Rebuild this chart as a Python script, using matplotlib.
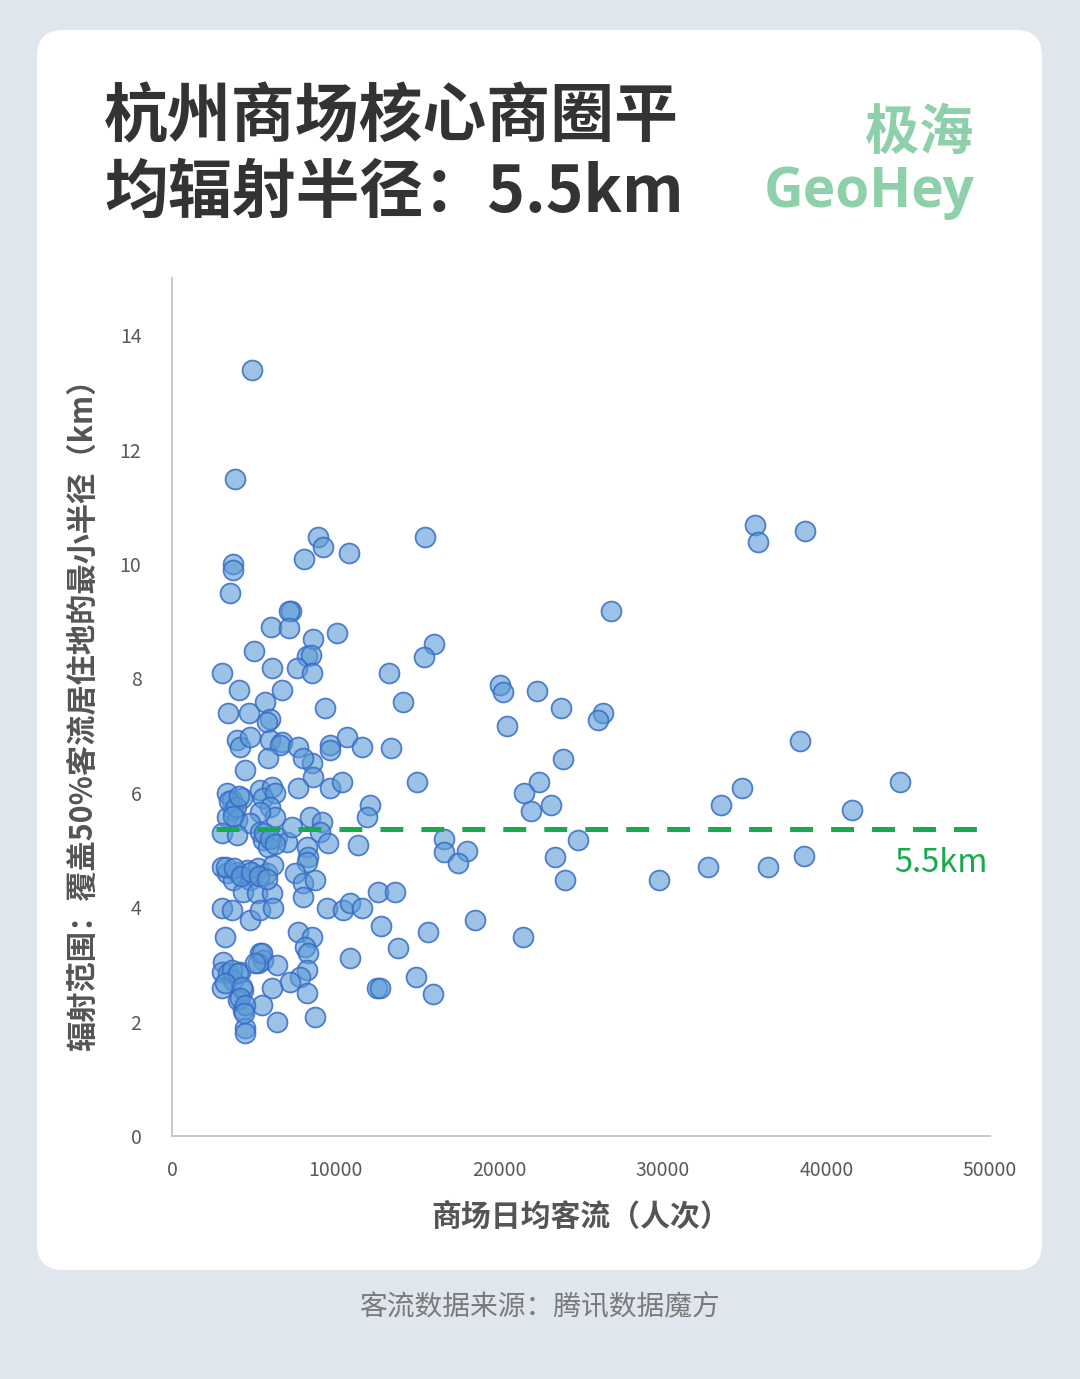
import matplotlib
matplotlib.use("Agg")
import matplotlib.pyplot as plt
from matplotlib.patches import FancyBboxPatch

plt.rcParams['font.family'] = ['Noto Sans CJK SC', 'DejaVu Sans']
plt.rcParams['lines.scale_dashes'] = False

# ---------------- data ----------------
# daily passenger flow of each mall (people/day)
traffic = [
    4890, 3850, 3730, 3730, 3550, 8920, 9230, 8070, 10820, 7270, 7150, 6050, 7150, 8620, 10090,
    5010, 8250, 8500, 6110, 7640, 8560, 3060, 4100, 6720, 5680, 3420, 4710, 5990, 5810, 9350,
    3970, 4160, 4770, 5990, 6720, 6600, 7700, 8560, 8010, 9660, 9660, 10700, 11610, 5870, 4460,
    8620, 7700, 9660, 10390, 12100, 11920, 3360, 3670, 4280, 3730, 3360, 3970, 5380, 6110, 5560,
    6300, 5990, 6300, 5380, 4770, 3060, 3970, 5380, 5560, 6420, 7030, 5870, 7330, 8430, 9170,
    9050, 9540, 8250, 8310, 8250, 11370, 3060, 3360, 3970, 3730, 4580, 4770, 5260, 5810, 6170,
    4340, 5200, 6110, 7520, 8010, 8740, 8010, 3060, 3670, 4770, 5380, 6170, 9470, 10450, 10880,
    11610, 3240, 7700, 8560, 8130, 8310, 3120, 3060, 3420, 4160, 3730, 3060, 4340, 5380, 5560,
    6420, 5260, 8250, 7820, 7210, 6110, 8250, 4030, 4340, 5500, 8740, 6420, 4460, 4460, 10880,
    12530, 12710,
    3670, 4030, 3240, 4280, 4160, 4460, 4400, 5500, 5070,
    3500, 3900, 4100, 3700, 5600, 6000, 6300, 3300, 3800, 4200, 4800, 5300, 5800,
    15460, 26830, 16010, 15400, 13260, 14120, 20050, 20230, 22310, 23780, 26340, 26040, 20480,
    13390, 23900, 14970, 22430, 21510, 23160, 21940, 16620, 16620, 18030, 17480, 24810, 23410,
    24020, 29770, 12590, 13630, 12770, 15650, 13810, 18520, 21450, 14910, 15950,
    32760, 33560, 34840, 35630, 35820, 38690, 38380, 36430, 38630, 41560, 44500,
]
# minimum radius covering 50% of customers' homes (km)
radius = [
    13.39, 11.49, 10.00, 9.90, 9.49, 10.47, 10.30, 10.09, 10.19, 9.18, 9.18, 8.90, 8.88, 8.69, 8.79,
    8.48, 8.39, 8.41, 8.18, 8.18, 8.09, 8.09, 7.80, 7.80, 7.59, 7.40, 7.40, 7.29, 7.24, 7.48,
    6.92, 6.80, 6.98, 6.92, 6.89, 6.84, 6.80, 6.52, 6.61, 6.84, 6.75, 6.98, 6.80, 6.61, 6.40,
    6.28, 6.08, 6.08, 6.19, 5.79, 5.58, 6.00, 5.87, 5.91, 5.70, 5.58, 5.52, 6.05, 6.10, 5.91,
    6.00, 5.75, 5.58, 5.66, 5.47, 5.30, 5.26, 5.31, 5.17, 5.23, 5.14, 5.05, 5.40, 5.58, 5.49,
    5.31, 5.12, 5.05, 4.88, 4.79, 5.09, 4.70, 4.60, 4.62, 4.48, 4.65, 4.48, 4.69, 4.60, 4.74,
    4.27, 4.25, 4.25, 4.60, 4.42, 4.48, 4.18, 3.99, 3.95, 3.78, 3.95, 3.99, 3.99, 3.95, 4.07,
    3.99, 3.48, 3.57, 3.48, 3.30, 3.20, 3.04, 2.87, 2.85, 2.87, 2.73, 2.59, 2.55, 3.20, 3.08,
    2.99, 3.02, 2.90, 2.78, 2.69, 2.59, 2.50, 2.38, 2.20, 2.29, 2.08, 1.99, 1.89, 1.80, 3.11,
    2.59, 2.59,
    2.90, 2.85, 2.67, 2.60, 2.41, 2.29, 2.15, 3.20, 3.02,
    5.85, 5.75, 5.95, 5.60, 5.30, 5.20, 5.10, 4.70, 4.68, 4.55, 4.62, 4.55, 4.50,
    10.47, 9.18, 8.60, 8.37, 8.09, 7.59, 7.88, 7.76, 7.78, 7.48, 7.40, 7.27, 7.17,
    6.78, 6.59, 6.19, 6.19, 6.00, 5.79, 5.68, 5.19, 4.97, 4.98, 4.77, 5.17, 4.88,
    4.48, 4.48, 4.27, 4.27, 3.67, 3.57, 3.29, 3.78, 3.48, 2.78, 2.48,
    4.70, 5.79, 6.08, 10.68, 10.38, 10.58, 6.91, 4.70, 4.90, 5.70, 6.19,
]
avg_level = 5.37          # dashed reference line
avg_label = "5.5km"
avg_start = 2690
x_ticks = [0, 10000, 20000, 30000, 40000, 50000]
y_ticks = [0, 2, 4, 6, 8, 10, 12, 14]

title_lines = ["杭州商场核心商圈平", "均辐射半径：5.5km"]
brand_cn = "极海"
brand_en = "GeoHey"
x_label = "商场日均客流（人次）"
y_label = "辐射范围：覆盖50%客流居住地的最小半径（km）"
source = "客流数据来源：腾讯数据魔方"

# ---------------- figure ----------------
W, H = 1080, 1379
fig = plt.figure(figsize=(W / 100, H / 100), dpi=100)
fig.patch.set_facecolor('#dfe6ed')

# background / card layer in pixel coordinates
bg = fig.add_axes([0, 0, 1, 1], zorder=0)
bg.set_xlim(0, W)
bg.set_ylim(H, 0)
bg.axis('off')
card = FancyBboxPatch((37, 30), 1005, 1240, boxstyle="round,pad=0,rounding_size=26",
                      facecolor='white', edgecolor='none')
bg.add_patch(card)

title_color = '#333333'
bg.text(104, 118, title_lines[0], fontsize=46, fontweight='bold', color=title_color,
        ha='left', va='center')
bg.text(104, 193, title_lines[1], fontsize=46, fontweight='bold', color=title_color,
        ha='left', va='center')
green_brand = '#8dd0aa'
bg.text(973, 133, brand_cn, fontsize=39, fontweight='bold', color=green_brand,
        ha='right', va='center')
bg.text(975, 193, brand_en, fontsize=39.5, fontweight='bold', color=green_brand,
        ha='right', va='center', family=['Open Sans', 'DejaVu Sans'])
bg.text(539, 1307, source, fontsize=20, color='#7a7a7a', ha='center', va='center')

# main axes
ax = fig.add_axes([172 / W, (H - 1136) / H, 818 / W, 858 / H], zorder=2)
ax.set_facecolor('none')
ax.set_xlim(0, 50000)
ax.set_ylim(0, 15)
ax.set_xticks(x_ticks)
ax.set_yticks(y_ticks)
ax.set_xticklabels([str(v) for v in x_ticks])
ax.set_yticklabels([str(v) for v in y_ticks])
for s in ['top', 'right']:
    ax.spines[s].set_visible(False)
for s in ['left', 'bottom']:
    ax.spines[s].set_color('#c4c4c4')
    ax.spines[s].set_linewidth(1.3)
ax.tick_params(axis='both', length=0, labelsize=14, labelcolor='#595959')
ax.tick_params(axis='y', pad=22)
ax.tick_params(axis='x', pad=17)

ax.scatter(traffic, radius, s=205,
           facecolors=[(0.357, 0.608, 0.835, 0.6)],
           edgecolors=[(0.22, 0.42, 0.78, 0.85)],
           linewidths=1.3, zorder=3)

ax.hlines(avg_level, avg_start, 50000, colors='#19a94e', linewidth=3.6,
          linestyles=(0, (16.5, 13)), zorder=4)
ax.text(49850, avg_level - 0.6, avg_label, color='#19a94e', fontsize=23.5,
        ha='right', va='center', zorder=5)

ax.set_xlabel(x_label, fontsize=21.5, fontweight='bold', color='#555555', labelpad=15)
ax.set_ylabel(y_label, fontsize=21.8, fontweight='bold', color='#555555', labelpad=15)

fig.savefig('out.png', dpi=100, facecolor=fig.get_facecolor())
